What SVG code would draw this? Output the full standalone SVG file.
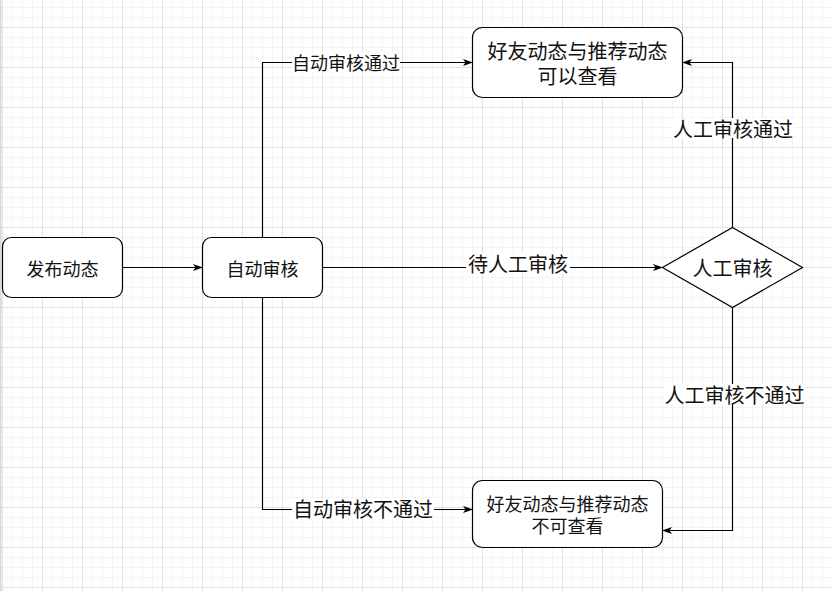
<svg xmlns="http://www.w3.org/2000/svg" width="832" height="591" viewBox="0 0 832 591">
<style>
.node{fill:#fff;stroke:#000;stroke-width:1.2}
.lbl{font-family:"Noto Sans CJK SC","Noto Sans",sans-serif;fill:#111;text-anchor:middle;dominant-baseline:central}
.edge{fill:none;stroke:#000;stroke-width:1.2}
.bg{fill:#fff}
</style>
<defs>
<pattern id="grid" patternUnits="userSpaceOnUse" x="2" y="-13" width="40" height="40">
<rect x="10" y="0" width="1" height="40" fill="#f4f4f4"/>
<rect x="20" y="0" width="1" height="40" fill="#f4f4f4"/>
<rect x="30" y="0" width="1" height="40" fill="#f4f4f4"/>
<rect x="0" y="10" width="40" height="1" fill="#f4f4f4"/>
<rect x="0" y="20" width="40" height="1" fill="#f4f4f4"/>
<rect x="0" y="30" width="40" height="1" fill="#f4f4f4"/>
<rect x="0" y="0" width="1" height="40" fill="#e2e2e2"/>
<rect x="0" y="0" width="40" height="1" fill="#e2e2e2"/>
</pattern>
<marker id="arr" viewBox="0 0 10 8" refX="9.5" refY="4" markerWidth="10" markerHeight="8" markerUnits="userSpaceOnUse" orient="auto">
<path d="M0,0.5 L10,4 L0,7.5 L2.5,4 Z" fill="#000"/>
</marker>
</defs>
<rect width="832" height="591" fill="#fff"/>
<rect width="832" height="591" fill="url(#grid)"/>
<rect x="0" y="0" width="1.5" height="591" fill="#d8d8d8"/>

<g id="connectors">
<path class="edge" d="M122.5,267.5 L202.5,267.5" marker-end="url(#arr)"/>
<path class="edge" d="M262.5,237.5 L262.5,62.5 L472.5,62.5" marker-end="url(#arr)"/>
<path class="edge" d="M262.5,297.5 L262.5,509.5 L472.5,509.5" marker-end="url(#arr)"/>
<path class="edge" d="M322.5,267.5 L662.5,267.5" marker-end="url(#arr)"/>
<path class="edge" d="M732.5,227.5 L732.5,62.5 L682.5,62.5" marker-end="url(#arr)"/>
<path class="edge" d="M732.5,307.5 L732.5,530.5 L662.5,530.5" marker-end="url(#arr)"/>
<g id="edge-labels">
<rect class="bg" x="292" y="52" width="108" height="20"/>
<text class="lbl" x="346" y="62" font-size="18">自动审核通过</text>
<rect class="bg" x="292" y="499" width="142" height="20"/>
<text class="lbl" x="363" y="508" font-size="20">自动审核不通过</text>
<rect class="bg" x="466" y="253" width="104" height="20"/>
<text class="lbl" x="518" y="263" font-size="20">待人工审核</text>
<rect class="bg" x="672" y="118" width="122" height="20"/>
<text class="lbl" x="733" y="128" font-size="20">人工审核通过</text>
<rect class="bg" x="664" y="384" width="142" height="20"/>
<text class="lbl" x="734.5" y="394" font-size="20">人工审核不通过</text>
</g>
</g>

<g id="n-publish">
<rect class="node" x="2.5" y="237.5" width="120" height="60" rx="9"/>
<text class="lbl" x="62.5" y="267.5" font-size="18">发布动态</text>
</g>
<g id="n-auto">
<rect class="node" x="202.5" y="237.5" width="120" height="60" rx="9"/>
<text class="lbl" x="262.5" y="267.5" font-size="18">自动审核</text>
</g>
<g id="n-visible">
<rect class="node" x="472.5" y="27.5" width="210" height="70" rx="10"/>
<text class="lbl" font-size="20"><tspan x="577.5" y="50">好友动态与推荐动态</tspan><tspan x="577.5" y="75">可以查看</tspan></text>
</g>
<g id="n-manual">
<path class="node" d="M732.5,227.5 L802.5,267.5 L732.5,307.5 L662.5,267.5 Z"/>
<text class="lbl" x="732.5" y="267.5" font-size="20">人工审核</text>
</g>
<g id="n-invisible">
<rect class="node" x="472.5" y="480.5" width="190" height="67" rx="10"/>
<text class="lbl" font-size="18"><tspan x="567.5" y="503">好友动态与推荐动态</tspan><tspan x="567.5" y="525">不可查看</tspan></text>
</g>
</svg>
